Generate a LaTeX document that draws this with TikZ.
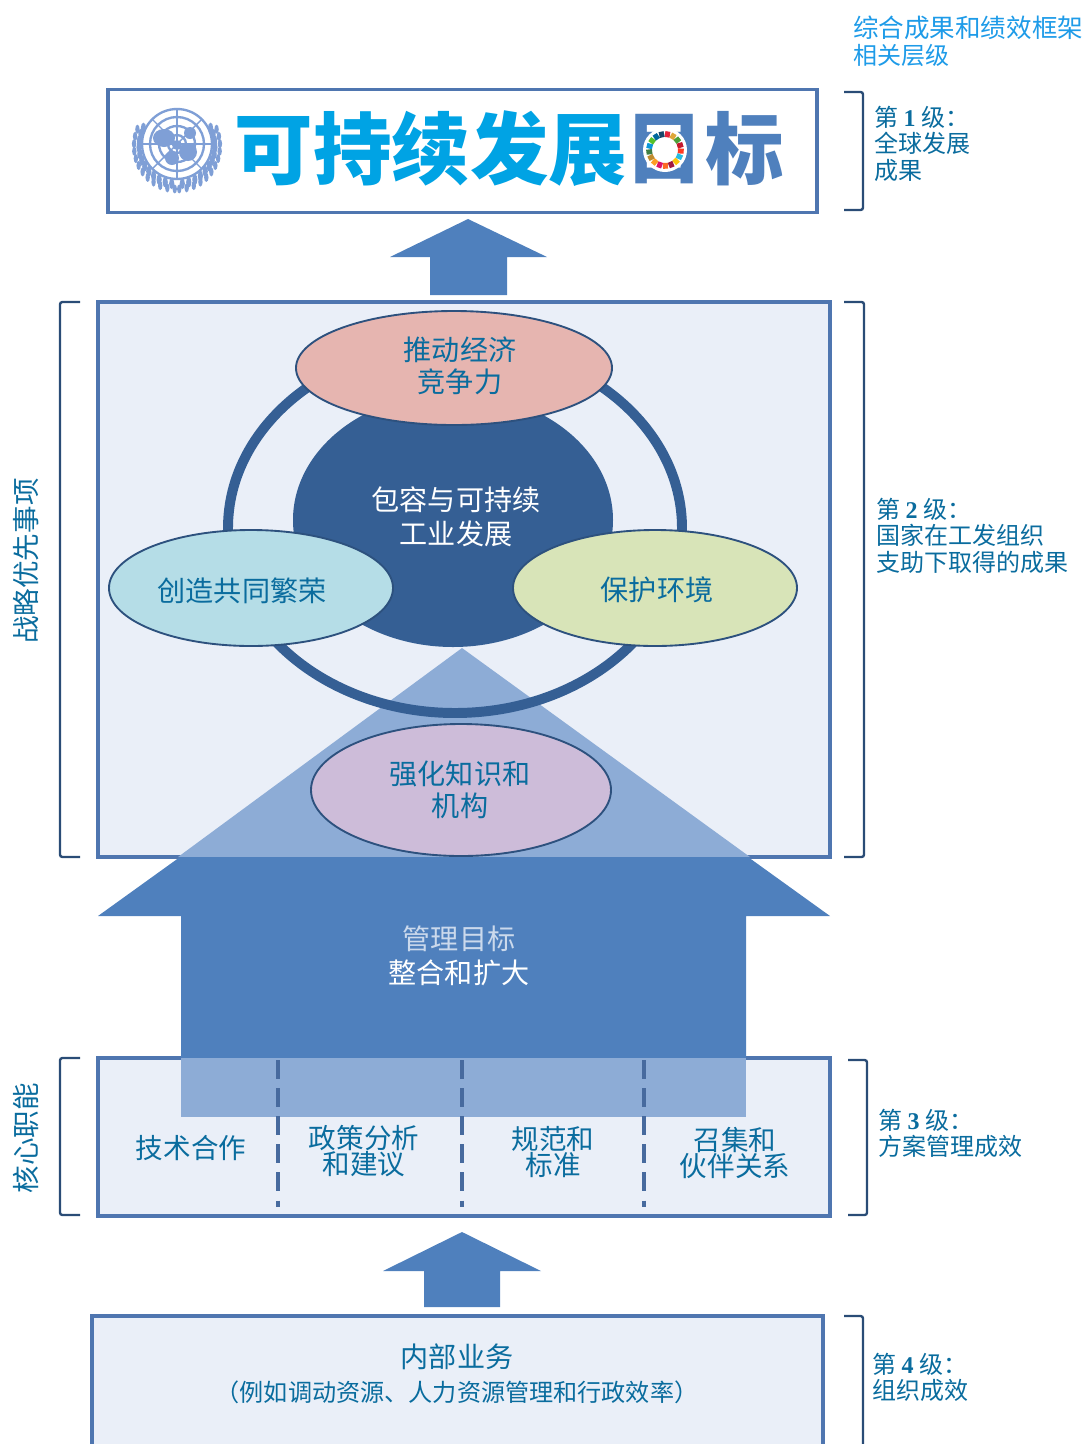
\documentclass[tikz,border=0pt]{standalone}
\usepackage{fontspec}
\usetikzlibrary{shapes.geometric}
\setmainfont{Noto Sans CJK SC}
\newfontfamily\numfont{Liberation Serif}
\lineskiplimit=-30pt
\newcommand{\lvl}[1]{第 {\numfont\bfseries #1} 级：}
\definecolor{frameBlue}{HTML}{4F76B0}
\definecolor{arrowBlue}{HTML}{4F80BD}
\definecolor{paleBlue}{HTML}{8DACD6}
\definecolor{boxFill}{HTML}{EAEFF8}
\definecolor{inkBlue}{HTML}{0A6C9E}
\definecolor{darkBlue}{HTML}{355F94}
\definecolor{skyBlue}{HTML}{1E9BE8}
\definecolor{logoBlue}{HTML}{00A3E4}
\definecolor{unBlue}{HTML}{7F9FD6}
\definecolor{PinkFill}{HTML}{E6B5B0}
\definecolor{BlueFill}{HTML}{B5DDE7}
\definecolor{GreenFill}{HTML}{D8E4B8}
\definecolor{PurpleFill}{HTML}{CDBCD9}
\begin{document}
\begin{tikzpicture}[x=0.03cm, y=-0.03cm,
    panel/.style={draw=frameBlue, line width=2.6pt, fill=boxFill},
    bracket/.style={draw=darkBlue!80!black, line width=2pt, rounded corners=2pt},
    blob/.style={ellipse, draw=darkBlue!85!black, line width=1.6pt, inner sep=0pt},
    bodyText/.style={text=inkBlue, align=center, inner sep=0pt, font=\fontsize{24}{27}\selectfont},
    funcText/.style={text=inkBlue, align=center, inner sep=0pt, font=\fontsize{23.5}{22.5}\selectfont},
    sideText/.style={text=inkBlue, align=left, anchor=north west, inner sep=0pt, font=\fontsize{20.5}{22.5}\selectfont},
    logoText/.style={inner sep=0pt, font=\fontsize{67}{67}\selectfont\bfseries},
    divider/.style={draw=frameBlue!90!black, line width=2.6pt, dash pattern=on 16pt off 8pt}]
  \useasboundingbox (0,0) rectangle (1084,1444);

  % panels
  \node[panel, fill=white, minimum width=709*0.03cm, minimum height=123*0.03cm, inner sep=0pt] (sdgBox) at (462.5,151) {};
  \draw[panel] (98,302) rectangle (830,857);
  \draw[panel] (98,1058) rectangle (830,1216);
  \draw[panel] (92,1444) -- (92,1316) -- (823,1316) -- (823,1444);

  % logo
  \node[logoText, text=logoBlue] (sdgWords) at (431,149) {可持续发展};
  \node[logoText, text=arrowBlue] (sdgMu) at (665,149) {目};
  \node[logoText, text=arrowBlue] (sdgBiao) at (745,149) {标};
  \fill[white] (665,150) circle [radius=22];
  \foreach \i/\c in {0/E5243B,1/DDA63A,2/4C9F38,3/C5192D,4/FF3A21,5/26BDE2,6/FCC30B,7/A21942,8/FD6925,9/DD1367,10/FD9D24,11/BF8B2E,12/3F7E44,13/0A97D9,14/56C02B,15/00689D,16/19486A}
  {
    \definecolor{wedgeCol}{HTML}{\c}
    \draw[wedgeCol, line width=5pt] ({665+16*cos(90-\i*360/17)},{150-16*sin(90-\i*360/17)}) arc [start angle={-90+\i*360/17}, end angle={-90+(\i+0.85)*360/17}, radius=16];
  }

  % emblem
  \begin{scope}[draw=unBlue, line width=2pt]
    \foreach \r in {9,18,27,35} \draw (177,144) circle [radius=\r];
    \foreach \a in {0,45,...,315} \draw[line width=1.2pt] (177,144) -- ++(\a:35);
    \fill[unBlue] (164,138) ellipse [x radius=11, y radius=9];
    \fill[unBlue] (188,152) circle [radius=9];
    \fill[unBlue] (172,158) circle [radius=7];
    \fill[unBlue] (190,133) circle [radius=6];
    \fill[unBlue] (177,145) circle [radius=5];
    \foreach \a in {-28,-18,...,82}
    {
      \fill[unBlue] (177,146) ++({\a}:{38}) ellipse [x radius=2.6, y radius=5.5];
      \fill[unBlue] (177,146) ++({180-\a}:{38}) ellipse [x radius=2.6, y radius=5.5];
      \fill[unBlue] (177,146) ++({\a+5}:{43}) ellipse [x radius=2.2, y radius=4.5];
      \fill[unBlue] (177,146) ++({175-\a}:{43}) ellipse [x radius=2.2, y radius=4.5];
    }
  \end{scope}

  % small arrows
  \fill[arrowBlue] (468,219) -- (547,257) -- (507,257) -- (507,295) -- (430,295) -- (430,257) -- (390,257) -- cycle;
  \fill[arrowBlue] (462,1232) -- (541,1271) -- (500,1271) -- (500,1307) -- (424,1307) -- (424,1271) -- (383,1271) -- cycle;

  % priorities
  \fill[paleBlue] (462,648) -- (750,857) -- (178,857) -- cycle;
  \draw[darkBlue, line width=8.5pt] (455,528) ellipse [x radius=227, y radius=185];
  \fill[darkBlue] (453,520) ellipse [x radius=160, y radius=127];
  \node[text=white, align=center, inner sep=0pt, font=\fontsize{24}{29}\selectfont] (iside) at (456,517) {包容与可持续\\工业发展};
  \node[blob, fill=PinkFill, minimum width=316*0.03cm, minimum height=114*0.03cm] (econ) at (454,368) {};
  \node[blob, fill=BlueFill, minimum width=284*0.03cm, minimum height=116*0.03cm] (prosper) at (251,588) {};
  \node[blob, fill=GreenFill, minimum width=284*0.03cm, minimum height=116*0.03cm] (env) at (655,588) {};
  \node[blob, fill=PurpleFill, minimum width=300*0.03cm, minimum height=132*0.03cm] (know) at (461,790) {};
  \node[bodyText] (econText) at (460,366) {推动经济\\竞争力};
  \node[bodyText] (prosperText) at (242,591) {创造共同繁荣};
  \node[bodyText] (envText) at (657,590) {保护环境};
  \node[bodyText] (knowText) at (460,790) {强化知识和\\机构};

  % big arrow
  \fill[arrowBlue] (180,857) -- (748,857) -- (830,916) -- (746,916) -- (746,1058) -- (181,1058) -- (181,916) -- (98,916) -- cycle;
  \fill[paleBlue] (181,1058) rectangle (746,1117);
  \node[text=boxFill!80!arrowBlue, inner sep=0pt, font=\fontsize{24}{27}\selectfont] (goalA) at (459,939) {管理目标};
  \node[text=white, inner sep=0pt, font=\fontsize{24}{27}\selectfont] (goalB) at (459,973) {整合和扩大};

  % core functions
  \draw[divider] (278,1060) -- (278,1207);
  \draw[divider] (462,1060) -- (462,1207);
  \draw[divider] (644,1060) -- (644,1207);
  \node[funcText] (tech) at (191,1148) {技术合作};
  \node[funcText] (policy) at (364,1151) {政策分析\\和建议};
  \node[funcText] (norm) at (553,1152) {规范和\\标准};
  \node[funcText] (partner) at (735,1153) {召集和\\伙伴关系};
  \node[bodyText] (opsA) at (457,1357) {内部业务};
  \node[text=inkBlue, inner sep=0pt, font=\fontsize{20.6}{22}\selectfont] (opsB) at (457,1392) {（例如调动资源、人力资源管理和行政效率）};

  % brackets
  \draw[bracket] (844,92) -- (863,92) -- (863,210) -- (844,210);
  \draw[bracket] (844,302) -- (864,302) -- (864,857) -- (844,857);
  \draw[bracket] (848,1060) -- (867,1060) -- (867,1215) -- (848,1215);
  \draw[bracket] (844,1316) -- (863,1316) -- (863,1444);
  \draw[bracket] (80,302) -- (60,302) -- (60,857) -- (80,857);
  \draw[bracket] (80,1058) -- (60,1058) -- (60,1215) -- (80,1215);

  % side labels
  \node[text=inkBlue, rotate=90, inner sep=0pt, font=\fontsize{23.5}{24}\selectfont] (strategy) at (26,561) {战略优先事项};
  \node[text=inkBlue, rotate=90, inner sep=0pt, font=\fontsize{23.5}{24}\selectfont] (core) at (26,1138) {核心职能};
  \node[sideText, text=skyBlue, font=\fontsize{21.8}{23}\selectfont] (framework) at (853,16) {综合成果和绩效框架\\{\fontsize{20.5}{23}\selectfont 相关层级}};
  \node[sideText] (levelOne) at (874,106) {\lvl{1}\\全球发展\\成果};
  \node[sideText] (levelTwo) at (876,498) {\lvl{2}\\国家在工发组织\\支助下取得的成果};
  \node[sideText] (levelThree) at (878,1109) {\lvl{3}\\方案管理成效};
  \node[sideText] (levelFour) at (872,1353) {\lvl{4}\\组织成效};
\end{tikzpicture}
\end{document}
